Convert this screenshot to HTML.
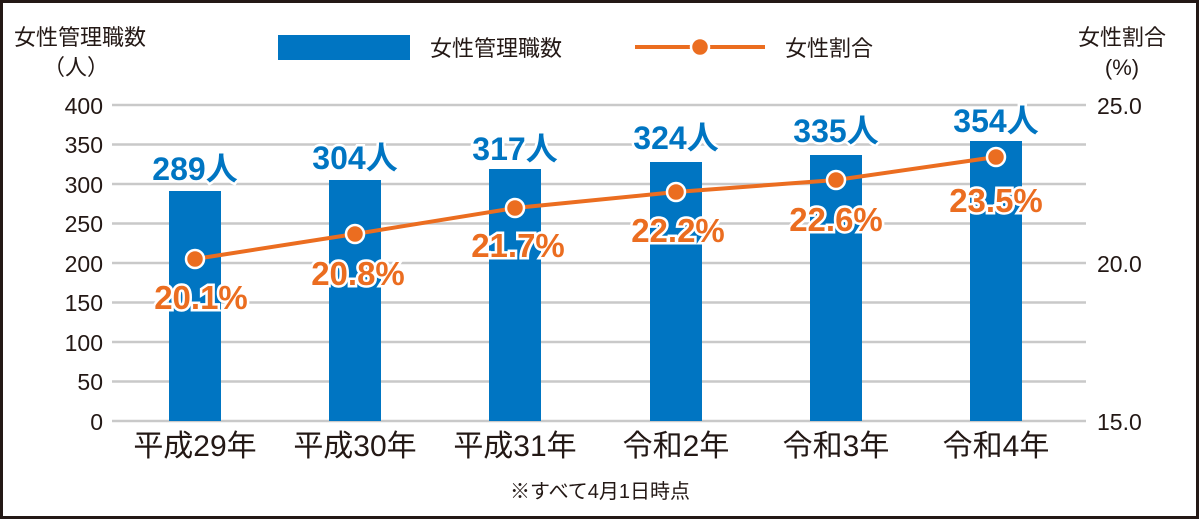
<!DOCTYPE html>
<html><head><meta charset="utf-8"><style>
body{margin:0;background:#fff}
svg text{font-family:"Liberation Sans","Noto Sans CJK JP",sans-serif}
</style></head><body>
<svg width="1200" height="520" xmlns="http://www.w3.org/2000/svg">
<rect x="1.5" y="1.5" width="1196" height="516" fill="#fff" stroke="#231815" stroke-width="3"/>
<g stroke="#c9c9c9" stroke-width="2.5">
<line x1="112" x2="1086" y1="105" y2="105"/><line x1="112" x2="1086" y1="144.5" y2="144.5"/>
<line x1="112" x2="1086" y1="184" y2="184"/><line x1="112" x2="1086" y1="223.5" y2="223.5"/>
<line x1="112" x2="1086" y1="263" y2="263"/><line x1="112" x2="1086" y1="302.5" y2="302.5"/>
<line x1="112" x2="1086" y1="342" y2="342"/><line x1="112" x2="1086" y1="381.5" y2="381.5"/>
<line x1="112" x2="1086" y1="421" y2="421"/>
</g>
<g font-size="23" fill="#231815" text-anchor="end">
<text x="103" y="114">400</text><text x="103" y="153">350</text><text x="103" y="193">300</text>
<text x="103" y="232">250</text><text x="103" y="272">200</text><text x="103" y="311">150</text>
<text x="103" y="351">100</text><text x="103" y="390">50</text><text x="103" y="430">0</text>
</g>
<g font-size="23" fill="#231815">
<text x="1097" y="114">25.0</text><text x="1097" y="272">20.0</text><text x="1097" y="430">15.0</text>
</g>
<text x="14" y="45" font-size="22" fill="#231815">女性管理職数</text>
<text x="76" y="75" font-size="22" fill="#231815" text-anchor="middle">（人）</text>
<text x="1122" y="45" font-size="22" fill="#231815" text-anchor="middle">女性割合</text>
<text x="1122" y="75" font-size="22" fill="#231815" text-anchor="middle">(%)</text>
<rect x="278" y="35" width="132" height="25" fill="#0075c2"/>
<text x="430" y="56" font-size="22" fill="#231815">女性管理職数</text>
<line x1="635" x2="765" y1="47" y2="47" stroke="#eb6d20" stroke-width="4"/>
<circle cx="700" cy="47" r="9" fill="#eb6d20" stroke="#fff" stroke-width="2.5"/>
<text x="785" y="56" font-size="22" fill="#231815">女性割合</text>
<g fill="#0075c2">
<rect x="169" y="191" width="52" height="230"/>
<rect x="329" y="180" width="52" height="241"/>
<rect x="489" y="169" width="52" height="252"/>
<rect x="650" y="162" width="52" height="259"/>
<rect x="810" y="155" width="52" height="266"/>
<rect x="970" y="141" width="52" height="280"/>
</g>
<g font-size="32" font-weight="bold" fill="#0075c2" text-anchor="middle" stroke="#fff" stroke-width="5" paint-order="stroke">
<text x="195" y="180">289人</text><text x="355" y="169">304人</text><text x="515" y="160">317人</text>
<text x="676" y="149">324人</text><text x="836" y="142">335人</text><text x="996" y="132">354人</text>
</g>
<polyline points="195,259 355,234 515,208 676,192 836,180 996,157" fill="none" stroke="#eb6d20" stroke-width="4"/>
<g fill="#eb6d20" stroke="#fff" stroke-width="2.5">
<circle cx="195" cy="259" r="9"/><circle cx="355" cy="234" r="9"/><circle cx="515" cy="208" r="9"/>
<circle cx="676" cy="192" r="9"/><circle cx="836" cy="180" r="9"/><circle cx="996" cy="157" r="9"/>
</g>
<g font-size="33" font-weight="bold" fill="#eb6d20" text-anchor="middle" stroke="#fff" stroke-width="5" paint-order="stroke">
<text x="201" y="309">20.1%</text><text x="358" y="285">20.8%</text><text x="518" y="257">21.7%</text>
<text x="678" y="242">22.2%</text><text x="836" y="231">22.6%</text><text x="996" y="212">23.5%</text>
</g>
<g font-size="30" fill="#231815" text-anchor="middle">
<text x="195" y="456">平成29年</text><text x="355" y="456">平成30年</text><text x="515" y="456">平成31年</text>
<text x="676" y="456">令和2年</text><text x="836" y="456">令和3年</text><text x="996" y="456">令和4年</text>
</g>
<text x="600" y="498" font-size="20" fill="#231815" text-anchor="middle">※すべて4月1日時点</text>
</svg>
</body></html>
